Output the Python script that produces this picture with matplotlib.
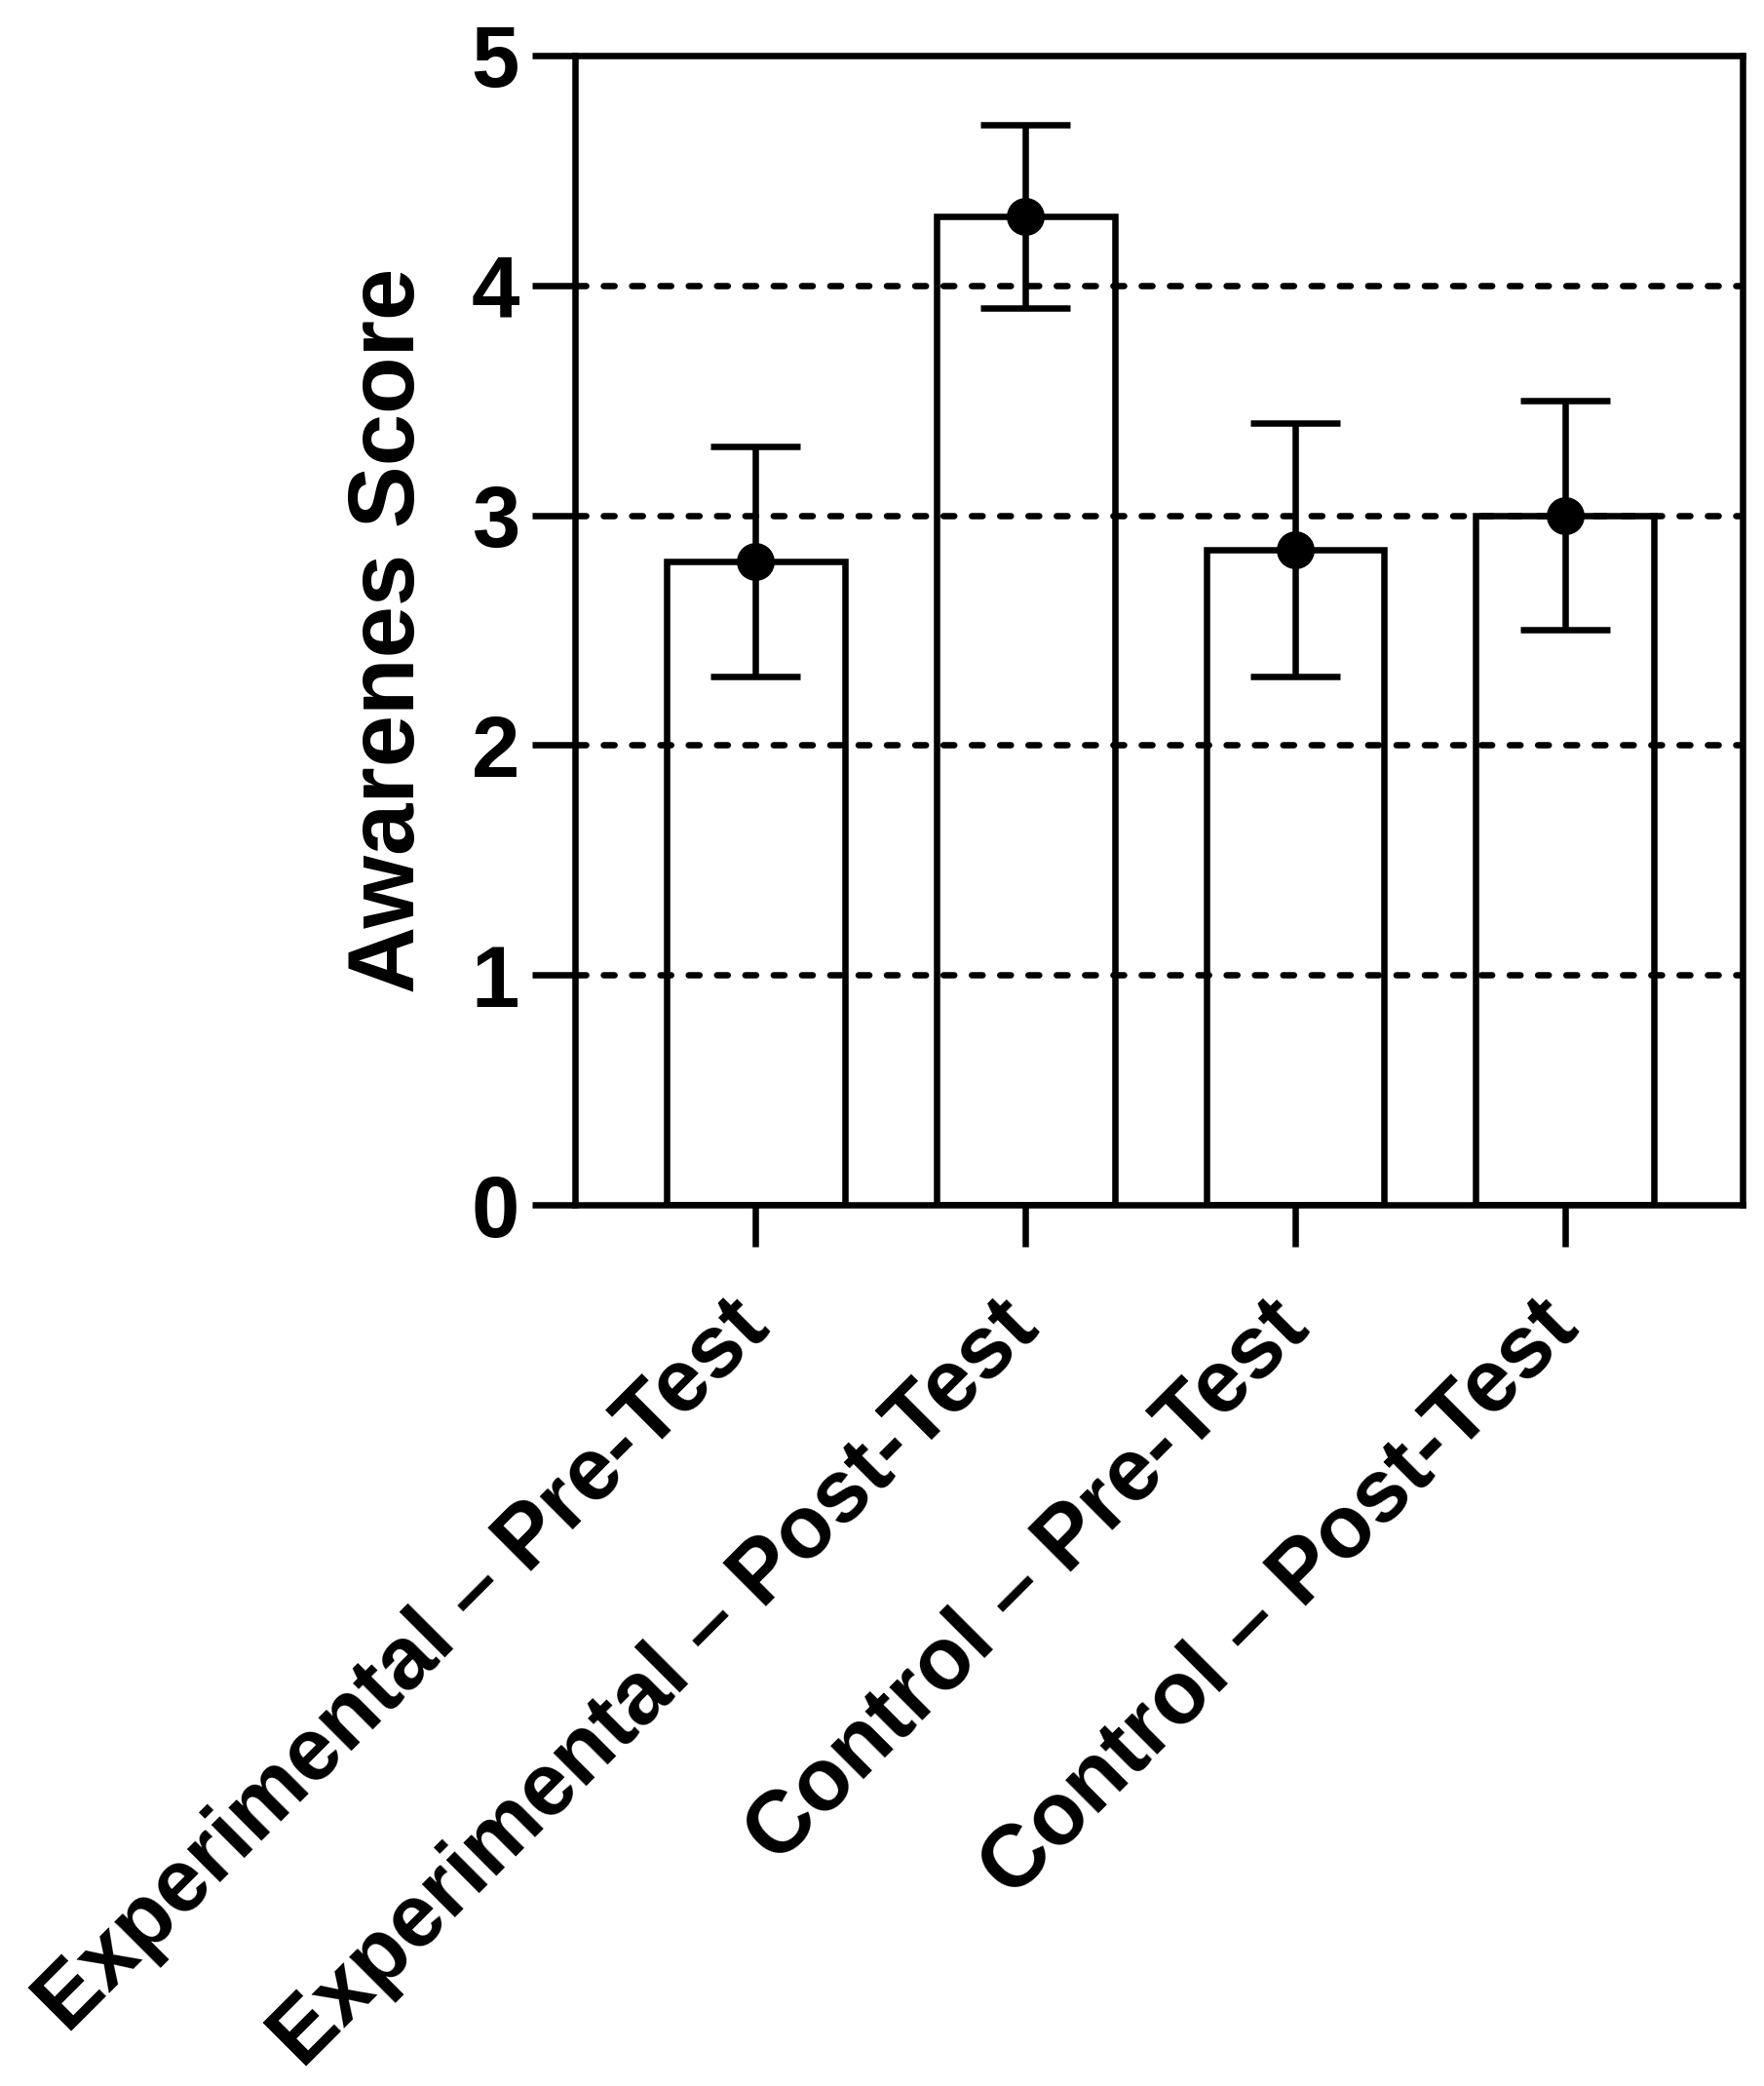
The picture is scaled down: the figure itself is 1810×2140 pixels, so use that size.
import numpy as np
import matplotlib
matplotlib.use('Agg')
import matplotlib.pyplot as plt

# Awareness scores by group and test (mean with error)
categories = ['Experimental \u2013 Pre-Test', 'Experimental \u2013 Post-Test',
              'Control \u2013 Pre-Test', 'Control \u2013 Post-Test']
means = [2.8, 4.3, 2.85, 3.0]
errors = [0.5, 0.4, 0.55, 0.5]
y_ticks = [0, 1, 2, 3, 4, 5]

plt.rcParams['font.family'] = ['Liberation Sans', 'DejaVu Sans']
plt.rcParams['font.weight'] = 'bold'

LW = 4.7  # points

fig = plt.figure(figsize=(18.1, 21.4), dpi=100)
ax = fig.add_axes([0.326, 0.4224, 0.662, 0.551])

x = np.arange(len(categories))
ax.bar(x, means, width=0.66, facecolor='white', edgecolor='black',
       linewidth=LW, zorder=1)

# dashed reference lines at the major ticks
for yv in y_ticks[1:-1]:
    ax.axhline(yv, color='black', linewidth=LW, linestyle=(0, (1.7, 2.75)),
               dash_capstyle='round', zorder=2)

ax.errorbar(x, means, yerr=errors, fmt='o', color='black', markersize=27,
            elinewidth=LW, capsize=33, capthick=LW, zorder=3)

ax.set_xlim(-0.67, 3.66)
ax.set_ylim(0, 5)
ax.set_yticks(y_ticks)
ax.set_xticks(x)
ax.set_xticklabels(categories, rotation=45, ha='right', va='center',
                   rotation_mode='anchor', fontsize=65, fontweight='bold')
ax.tick_params(axis='y', labelsize=64, length=32, width=LW, pad=9)
ax.tick_params(axis='x', length=31, width=LW, pad=50)
for lab in ax.get_yticklabels():
    lab.set_fontweight('bold')

for sp in ax.spines.values():
    sp.set_linewidth(LW)

ax.set_ylabel('Awarenes Score', fontsize=69, fontweight='bold', labelpad=28)

fig.savefig('out.png', dpi=100)
